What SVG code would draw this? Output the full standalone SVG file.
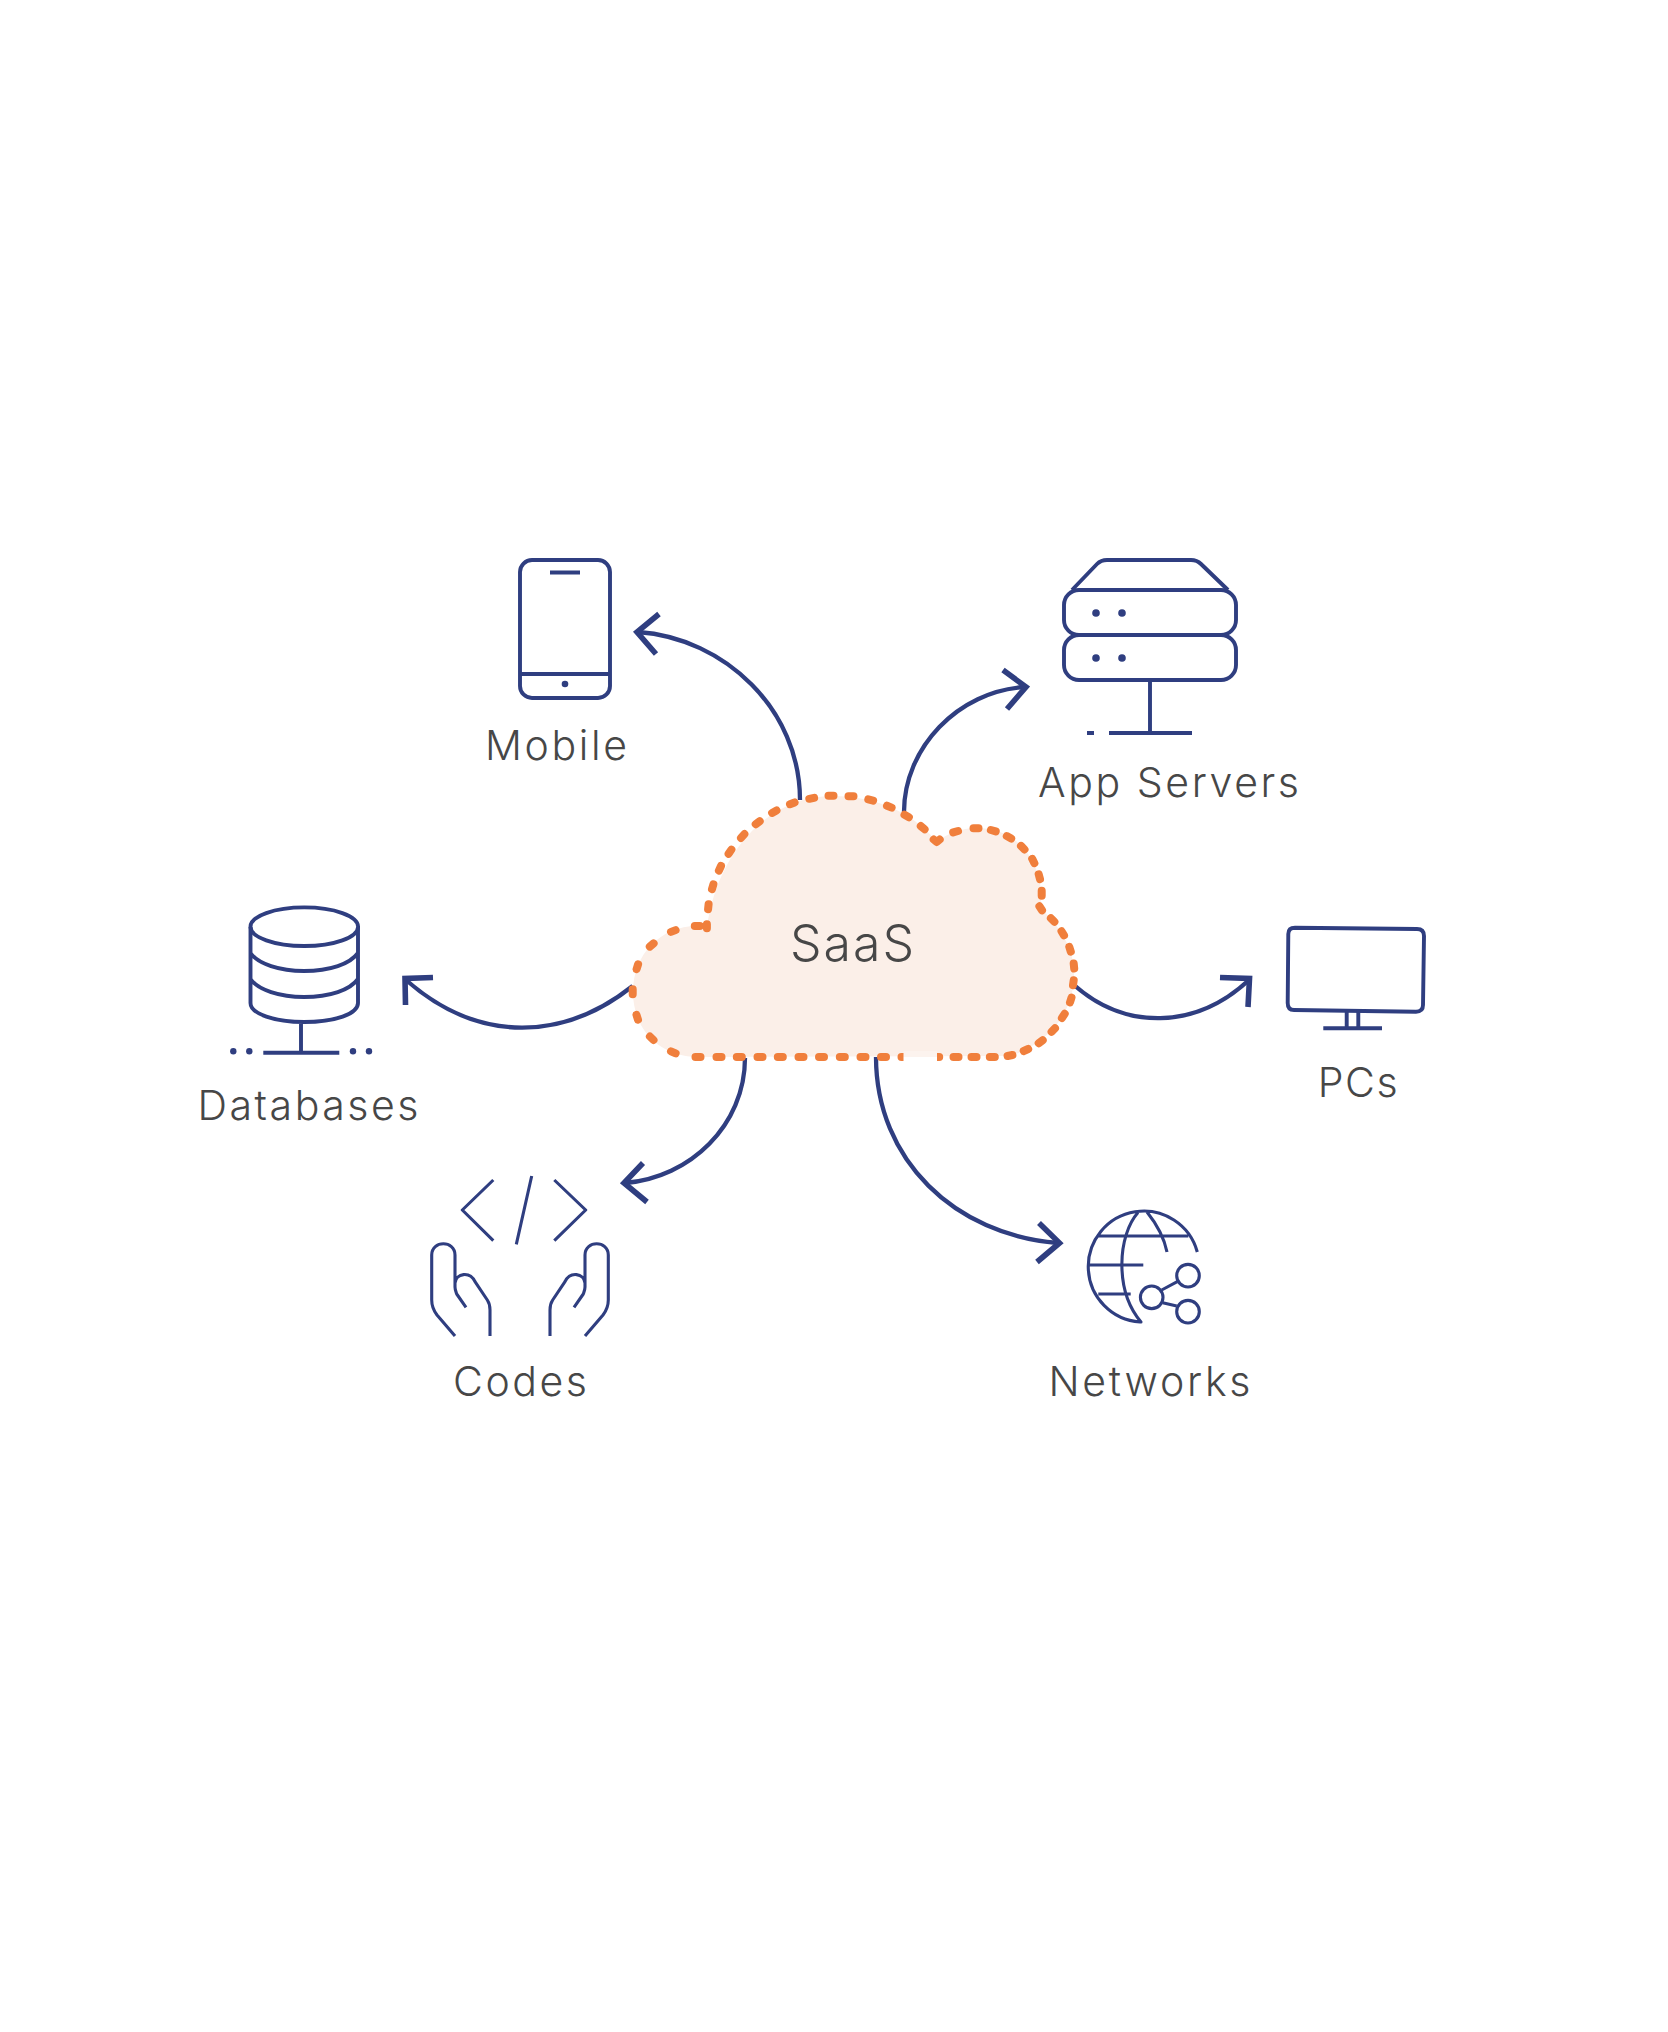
<svg xmlns="http://www.w3.org/2000/svg" width="1668" height="2032" viewBox="0 0 1668 2032">
<style>
.ic{fill:none;stroke:#2f3e80;stroke-width:3.9;stroke-linejoin:round}
.th{stroke-width:3.1}
.dot{fill:#2f3e80}
.cn{fill:none;stroke:#2f3e80;stroke-width:4.3}
.hd{fill:none;stroke:#2f3e80;stroke-width:5.6}
.lb{font-family:"Inter","Noto Sans",sans-serif;font-weight:300;font-size:41px;fill:#474747}
</style>
<rect width="1668" height="2032" fill="#ffffff"/>
<g id="connectors">
<path class="cn" d="M800 800C800 710 725 638 638 632"/><path class="hd" d="M659 614L637 632L656 654"/>
<path class="cn" d="M904 812C904 748 958 691 1025 687"/><path class="hd" d="M1003 670L1026 687L1007 709"/>
<path class="cn" d="M632.700 986C565 1040 480 1045 406 980"/><path class="hd" d="M433 977.500L405 978.500L405.500 1005"/>
<path class="cn" d="M1074 985C1125 1030 1195 1030 1249 980"/><path class="hd" d="M1220 977.500L1249.500 978.500L1248 1007"/>
<path class="cn" d="M745 1058C745 1125 690 1178 625 1183"/><path class="hd" d="M643 1163L624 1183L647 1202"/>
<path class="cn" d="M876 1057C876 1160 955 1235 1058 1243"/><path class="hd" d="M1039 1223L1059.500 1243L1037 1262"/>
</g>
<g id="saas">
<path d="M698 1057L1010 1056C1045 1045 1075 1015 1074 972C1074 950 1060 925 1040 908C1046 880 1030 828 976 828C960 828 945 835 937 842C915 815 880 796 832 796C770 796 718 850 707 927L710 931L697 926C660 926 633 955 633 992C633 1030 660 1057 698 1057Z" fill="#fbefe8"/>
<path fill="none" stroke="#f07f3c" stroke-width="8" stroke-linecap="round" stroke-linejoin="round" d="M695.500 1057h5M716.500 1057h5M736.800 1057h5M757.500 1057h5M777.800 1057h5M798.500 1057h5M819 1057h5M839.800 1057h5M860.500 1057h5M881 1057h5M901.500 1057h5M934.200 1057h5M953.500 1057h5M971.500 1057h5M989.800 1057h5M1007.600 1056l4.800 -1M1023.700 1051l4.500 -2M1038.700 1043.200l4 -3M1051.600 1031.800l3.400 -3.600M1061.900 1018l2.800 -4.200M1070 1002.400l1.500 -4.800M1073 985.200l.7 -5M1074.200 968.500l-.5 -5M1070.800 951.700l-1.500 -4.800M1064 935.400l-2.500 -4.200M1054.400 921.800l-3.500 -3.600M1042 910.300l-2.600 -4M1041.700 895.800v-5M1040 879.100l-1.300 -4.800M1034.400 863.200l-2.200 -4.400M1024.500 849.500l-3.500 -3.600M1011.200 838.500l-4.400 -2.400M995.700 831.400l-4.800 -1.400M978.500 828.300h-5M958 831l-4.800 1.400M933.700 839.500L936.700 842L939.700 839.500M924.600 829.300l-3.800 -3.200M908.900 817.200l-4.400 -2.400M891.600 807.600l-4.600 -1.900M873.100 800.600l-4.800 -1.200M853.500 796.200h-5M833.500 795.700h-5M814.100 797.800l-4.800 1M794.600 802.400l-4.600 1.800M776.500 810.500l-4.400 2.400M759.700 821.200l-4 3M744.400 834.100l-3.400 3.800M731.400 849.600l-2.800 4.200M721 866l-2.100 4.600M713.400 884.300l-1.400 4.800M708.600 904.200l-.5 5M706.900 924.200v4M699.800 926h-5M675.600 930.100l-4.600 1.800M653.600 943.400l-3.800 3.200M638.100 964.300l-1.500 4.800M632.700 989.200v5M636.500 1014.900l1.500 4.800M649.900 1036.500l3.600 3.500M671 1051.300l4.600 2"/>
<rect x="903.500" y="1051" width="33.500" height="6" fill="#fcf3ee"/>
<rect x="903.500" y="1057" width="33.500" height="6" fill="#ffffff"/>
<text class="lb" x="790" y="960.500" style="font-size:50px" textLength="124" lengthAdjust="spacing">SaaS</text>
</g>
<g id="mobile">
<rect class="ic" x="520" y="560" width="90" height="138" rx="12"/>
<path class="ic" d="M520 674H610M550 572.500H580"/>
<circle class="dot" cx="565" cy="684" r="3.300"/>
<text class="lb" x="485" y="760.300" textLength="142" lengthAdjust="spacing">Mobile</text>
</g>
<g id="app-servers">
<path class="ic" d="M1072 590L1097 564Q1101 560 1107 560H1191Q1197 560 1201 564L1228 590"/>
<rect class="ic" x="1064" y="590" width="172" height="45" rx="15"/>
<rect class="ic" x="1064" y="635" width="172" height="45" rx="15"/>
<circle class="dot" cx="1096" cy="613" r="3.800"/><circle class="dot" cx="1122" cy="613" r="3.800"/>
<circle class="dot" cx="1096" cy="658" r="3.800"/><circle class="dot" cx="1122" cy="658" r="3.800"/>
<path class="ic" d="M1150 680V733M1109 733H1192M1087 733H1094"/>
<text class="lb" x="1038" y="796.500" textLength="261" lengthAdjust="spacing">App Servers</text>
</g>
<g id="databases">
<ellipse class="ic" cx="304.300" cy="926.700" rx="53.800" ry="19.300"/>
<path class="ic" d="M250.500 927V1003C250.500 1014 275 1022 304 1022C335 1022 358 1014 358 1003V927M250.500 953C258 964 280 971 304 971C330 971 350 964 358 953M250.500 979C258 990 280 997 304 997C330 997 350 990 358 979M301 1022V1053M263.300 1052.700H339.300"/>
<circle class="dot" cx="233.300" cy="1051.300" r="3.200"/><circle class="dot" cx="249.300" cy="1051.300" r="3.200"/>
<circle class="dot" cx="353" cy="1051.300" r="3.200"/><circle class="dot" cx="369" cy="1051.300" r="3.200"/>
<text class="lb" x="197.500" y="1120.300" textLength="221" lengthAdjust="spacing">Databases</text>
</g>
<g id="pcs">
<path class="ic" d="M1295 927.700L1417 929Q1424 929 1424 936L1423 1005Q1423 1011.700 1416 1011.700L1294 1010Q1287.700 1010 1287.700 1003L1288.300 934Q1288.300 927.700 1295 927.700Z"/>
<path class="ic" d="M1346.700 1011V1028M1358.300 1011V1028M1323.300 1028.300H1382"/>
<text class="lb" x="1317.700" y="1096.500" textLength="80" lengthAdjust="spacing">PCs</text>
</g>
<g id="codes">
<path class="ic th" d="M493.300 1180L462.300 1210L493.300 1240.700M531.700 1176L516.300 1244.300M554.300 1180L585.700 1210L554.300 1240.700"/>
<path class="ic th" d="M455 1336L437 1315Q431.700 1308 431.700 1300V1255C431.700 1240 455 1240 455 1255V1287C455 1290 456 1292 456.700 1294L466 1307.300M455 1283C456 1273 470 1271 475 1281.700L487.300 1300Q490 1304 490 1310V1336"/>
<path class="ic th" d="M585 1336L603 1315Q608.300 1308 608.300 1300V1255C608.300 1240 585 1240 585 1255V1287C585 1290 584 1292 583.300 1294L574 1307.300M585 1283C584 1273 570 1271 565 1281.700L552.700 1300Q550 1304 550 1310V1336"/>
<text class="lb" x="453" y="1396" textLength="134" lengthAdjust="spacing">Codes</text>
</g>
<g id="networks">
<path class="ic th" d="M1197.300 1252A55.500 55.500 0 1 0 1140 1322H1141C1114 1290 1118 1235 1138 1212.500M1147 1212Q1163 1232 1167 1252M1098.300 1236H1188.300M1088 1265H1143.300M1098.300 1294H1130.700"/>
<circle class="ic th" cx="1151.700" cy="1297.300" r="11.300"/><circle class="ic th" cx="1188" cy="1275.700" r="11.300"/><circle class="ic th" cx="1188" cy="1311.700" r="11.300"/>
<path class="ic th" d="M1161.700 1290L1177.300 1281.700M1162.700 1302.700L1176.700 1306"/>
<text class="lb" x="1048.500" y="1396" textLength="202" lengthAdjust="spacing">Networks</text>
</g>
</svg>
